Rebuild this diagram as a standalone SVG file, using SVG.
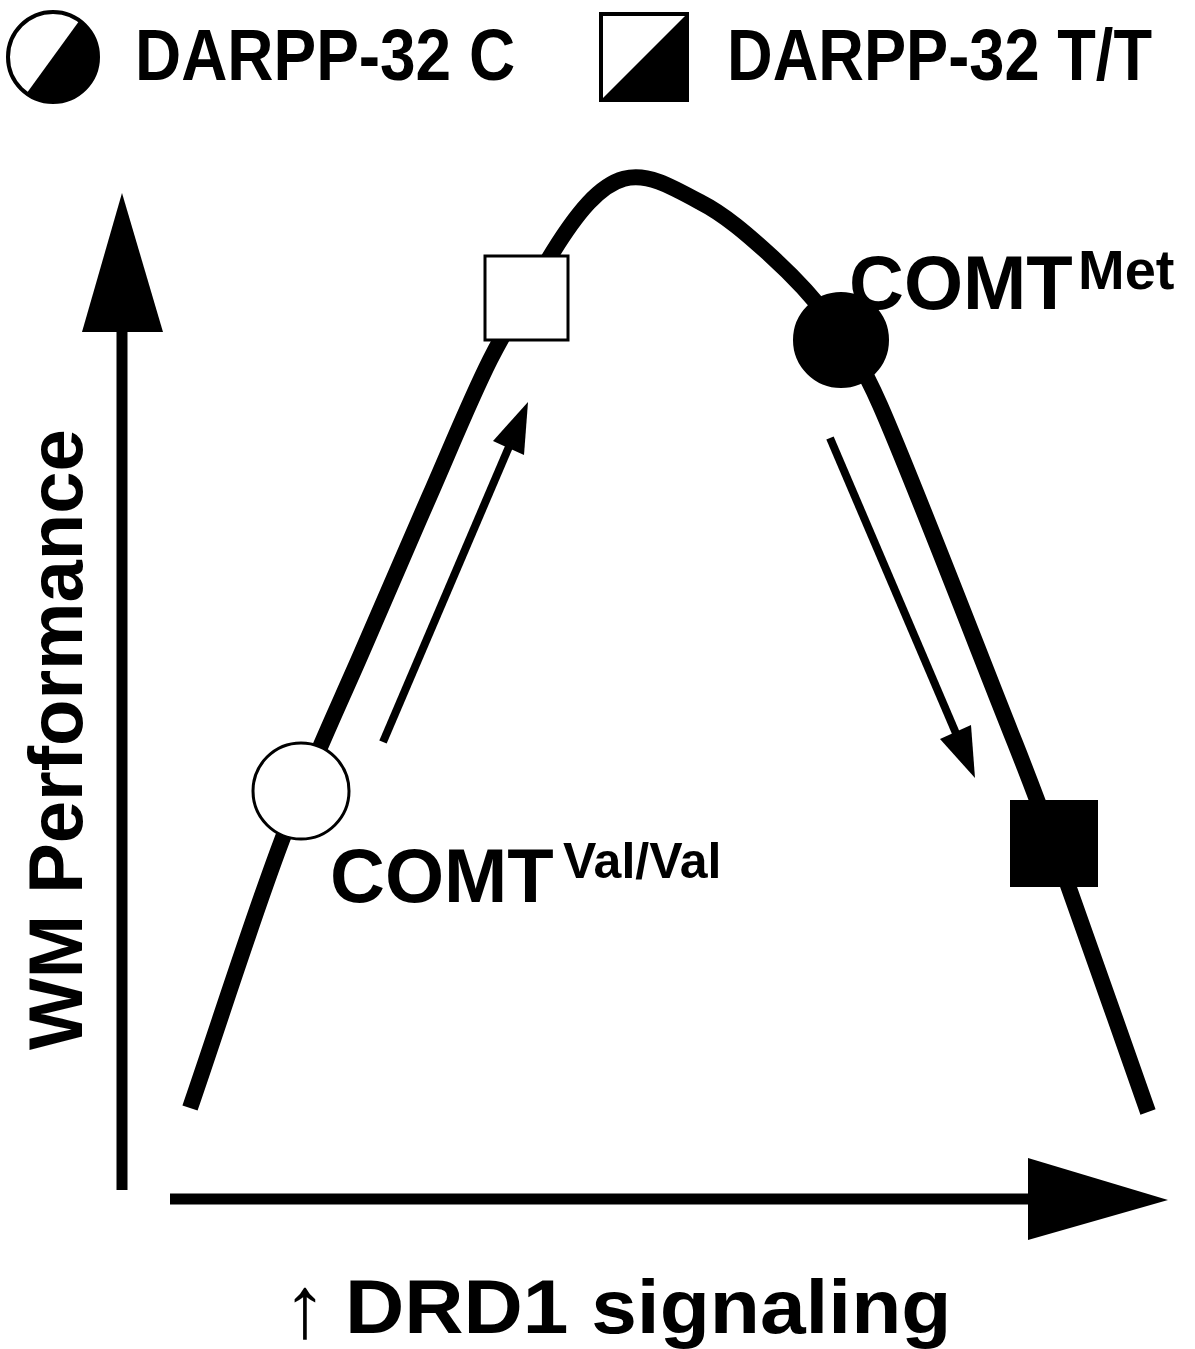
<svg xmlns="http://www.w3.org/2000/svg" width="1195" height="1349" viewBox="0 0 1195 1349">
<style>
.t{font-family:"Liberation Sans",Arial,sans-serif;font-weight:bold;fill:#000}
.ax{stroke:#000;stroke-width:11;fill:none}
.sm{stroke:#000;stroke-width:8;fill:none}
.curve{stroke:#000;stroke-width:16;fill:none;stroke-linecap:butt}
.open{fill:#fff;stroke:#000;stroke-width:3}
.solid{fill:#000;stroke:#000;stroke-width:2}
</style>
<rect width="1195" height="1349" fill="#fff"/>
<g id="legend-c">
<circle cx="53" cy="57" r="45" fill="#fff" stroke="#000" stroke-width="4"/>
<path d="M79.5,20.6 A45,45 0 0,1 26.5,93.4 Z" fill="#000"/>
<text class="t" transform="translate(135,80) scale(0.888,1)" font-size="72">DARPP-32 C</text>
</g>
<g id="legend-tt">
<rect x="601" y="14" width="86" height="86" fill="#fff" stroke="#000" stroke-width="4"/>
<polygon points="603,98 685,16 685,98" fill="#000"/>
<text class="t" transform="translate(727,80) scale(0.878,1)" font-size="72">DARPP-32 T/T</text>
</g>
<g id="connectors">
<line class="ax" x1="122" y1="1190" x2="122" y2="330"/>
<polygon points="122,193 163,332 82,332" fill="#000"/>
<line class="ax" x1="170" y1="1199" x2="1030" y2="1199"/>
<polygon points="1028,1158 1168,1200 1028,1240" fill="#000"/>
<path class="curve" d="M190,1108 C220.7,1018.7 252.8,917.2 282,840 C311.2,762.8 340.3,702.5 365,645 C389.7,587.5 409.2,542.5 430,495 C450.8,447.5 470.8,398.3 490,360 C509.2,321.7 529.2,291.7 545,265 C611,153 638,168 700,202 C725,214.7 748.3,235.3 770,255 C791.7,274.7 811.7,295 830,320 C848.3,345 860,360 880,405 C908.3,469.2 971.2,632 1000,705 C1028.8,778 1028.3,775.2 1053,843 C1077.7,910.8 1116.3,1022.3 1148,1112"/>
<line class="sm" x1="383" y1="742" x2="511" y2="442"/>
<polygon points="528,402 524,455 493,441" fill="#000"/>
<line class="sm" x1="830" y1="438" x2="958" y2="738"/>
<polygon points="975,778 971,725 940,739" fill="#000"/>
</g>
<g id="node-val">
<circle class="open" cx="301" cy="791" r="48"/>
<text class="t" x="330" y="902" font-size="76">COMT</text>
<text class="t" x="563" y="878" font-size="50">Val/Val</text>
</g>
<g id="node-tt-open">
<rect class="open" x="485" y="256" width="83" height="84"/>
</g>
<g id="node-met">
<circle class="solid" cx="841" cy="340" r="47"/>
<text class="t" x="849" y="309" font-size="76">COMT</text>
<text class="t" x="1078" y="289" font-size="56">Met</text>
</g>
<g id="node-tt-solid">
<rect class="solid" x="1011" y="801" width="86" height="85"/>
</g>
<g id="axis-labels">
<text class="t" transform="translate(82,1050) rotate(-90)" font-size="76">WM Performance</text>
<text class="t" x="283" y="1337" font-size="88" style="font-weight:normal">↑</text>
<text class="t" transform="translate(345,1333) scale(1.08,1)" font-size="76">DRD1 signaling</text>
</g>
</svg>
